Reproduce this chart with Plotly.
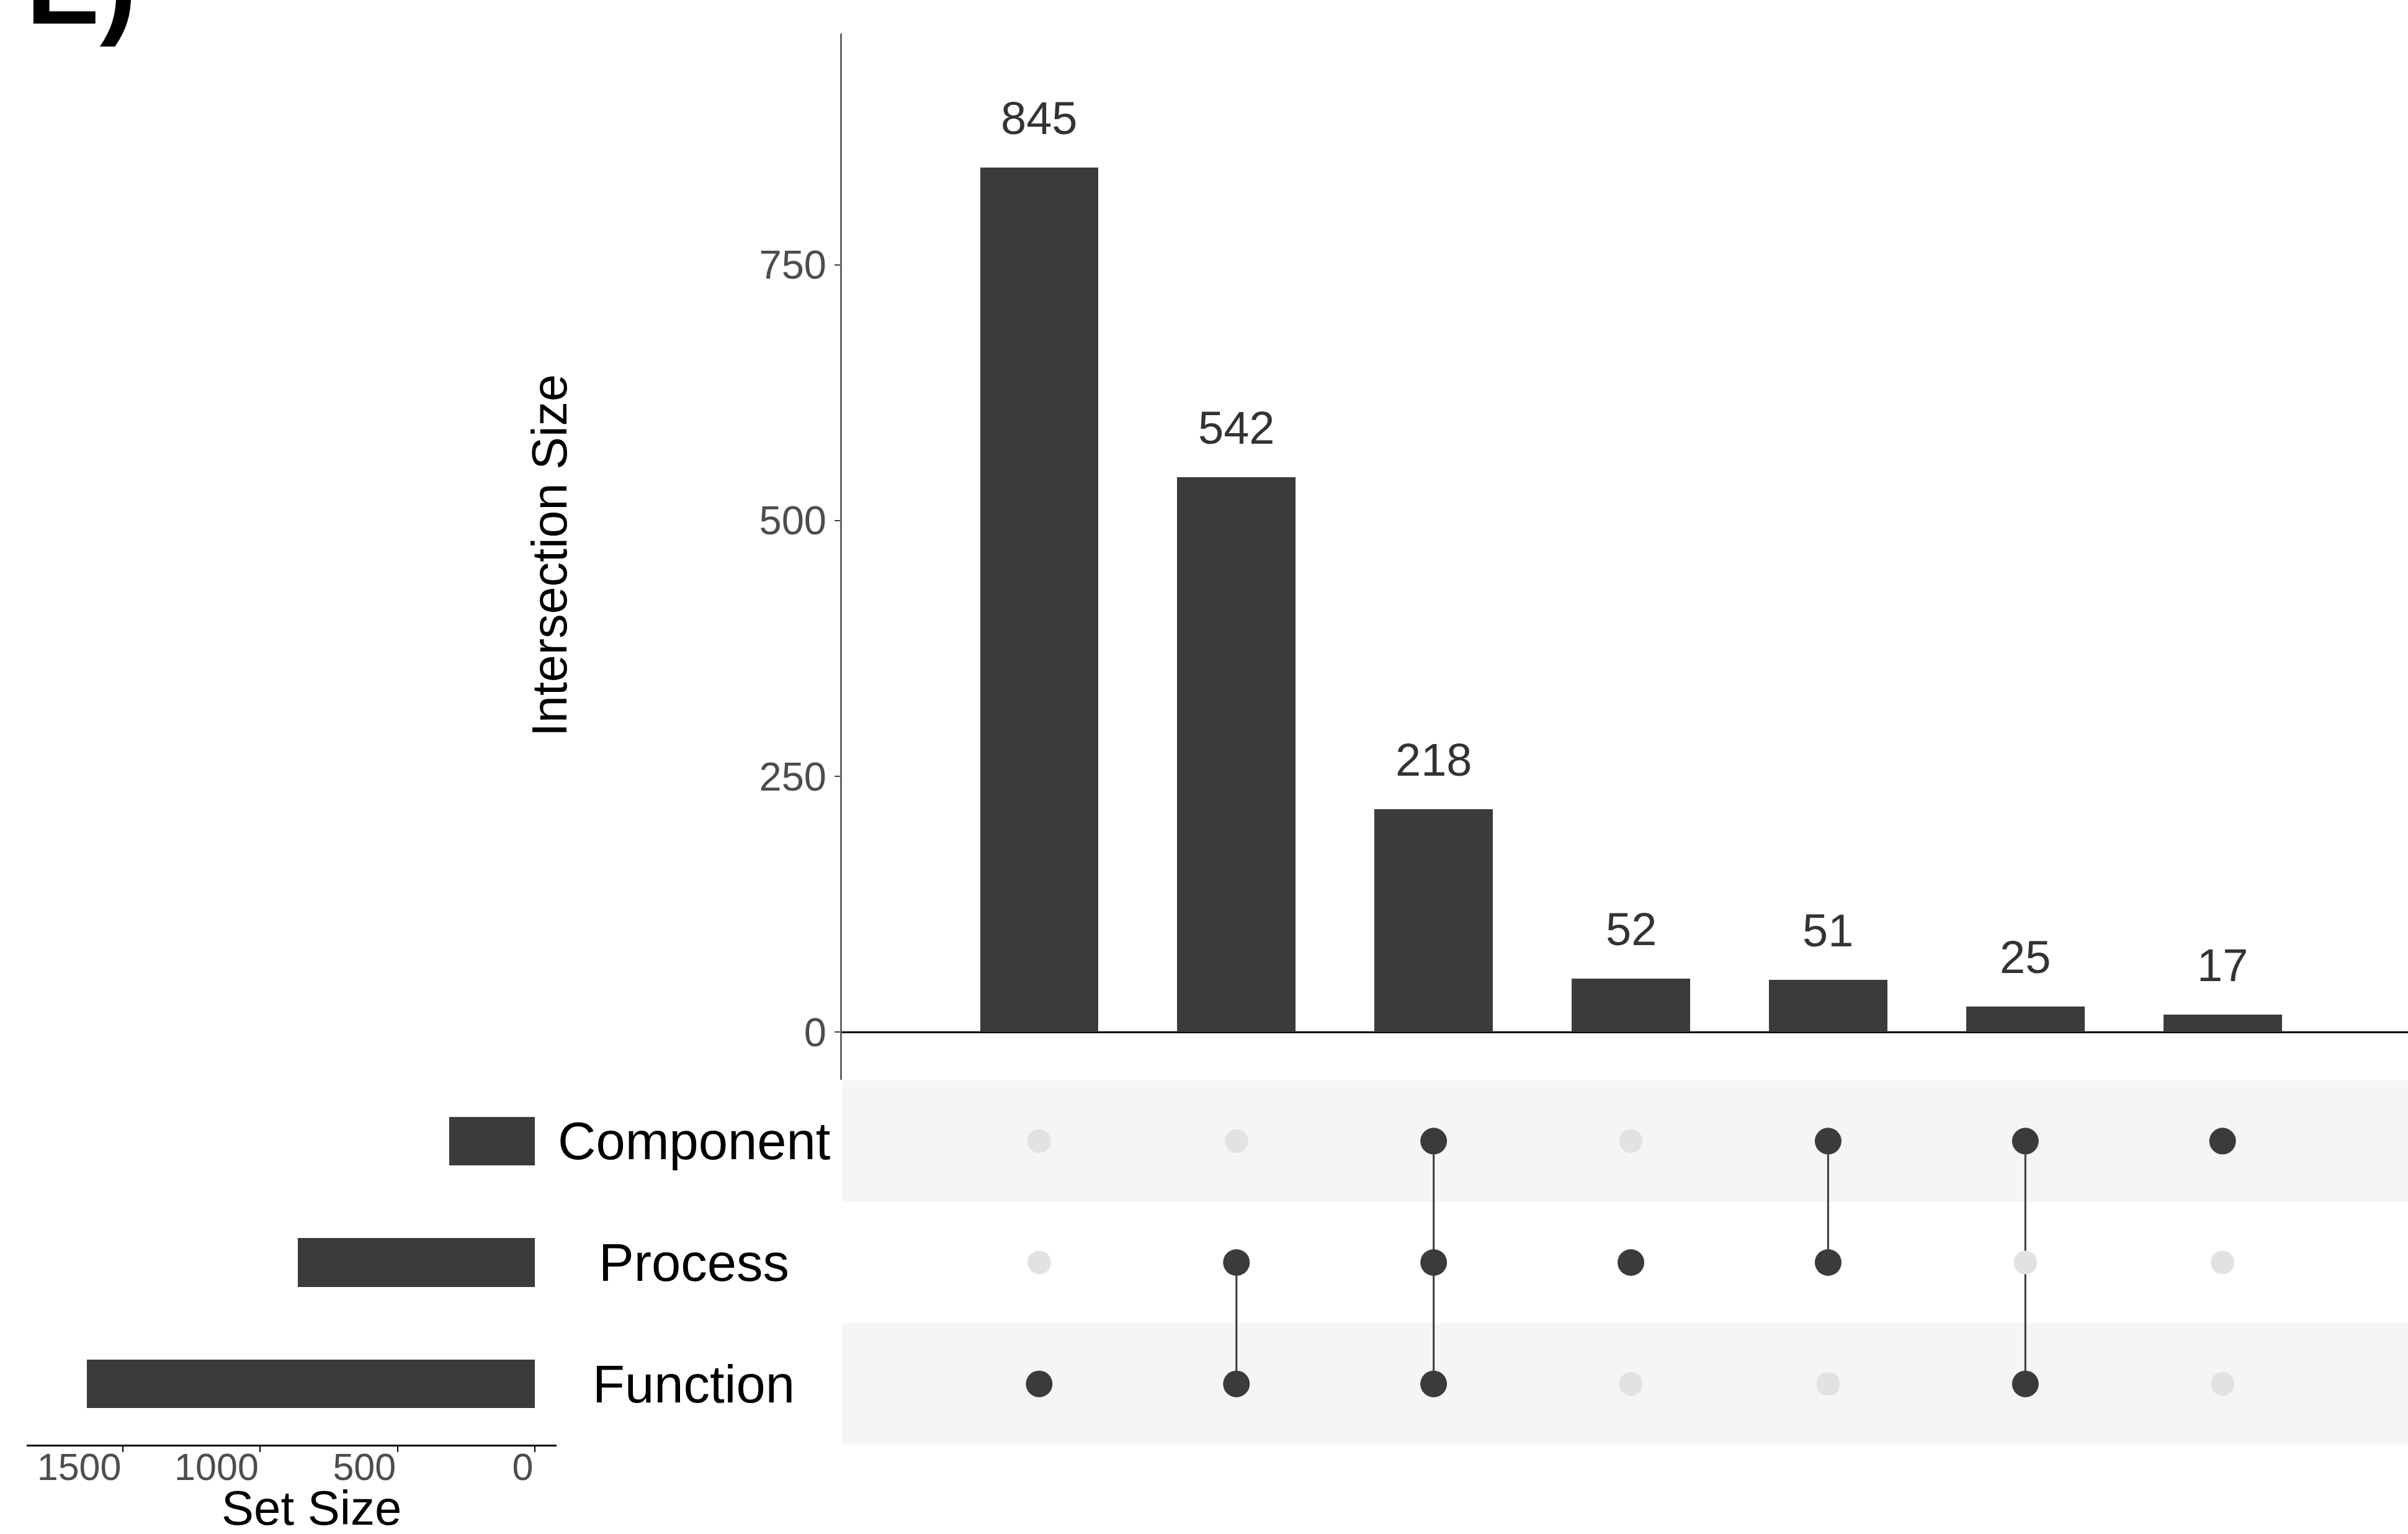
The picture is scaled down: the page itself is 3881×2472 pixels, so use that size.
import plotly.graph_objects as go

# Canvas size in pixels
W, H = 3881, 2472

# ---- data ----
set_names = ["Component", "Process", "Function"]          # matrix rows, top to bottom
set_rows = [2, 1, 0]                                      # y position of each set row
set_sizes = [311, 863, 1630]

intersection_sizes = [845, 542, 218, 52, 51, 25, 17]
intersection_members = [
    ["Function"],
    ["Process", "Function"],
    ["Component", "Process", "Function"],
    ["Process"],
    ["Component", "Process"],
    ["Component", "Function"],
    ["Component"],
]
size_ticks = [0, 250, 500, 750]
set_size_ticks = [0, 500, 1000, 1500]

# ---- styling ----
BAR = "#3b3b3b"
FONT = "Liberation Sans, Arial, Helvetica, sans-serif"
row_of = dict(zip(set_names, set_rows))
cols = list(range(1, len(intersection_sizes) + 1))


def px_x(p):
    return p / W


def px_y(p):
    return 1 - p / H


fig = go.Figure()

# intersection size bars
fig.add_trace(go.Bar(
    x=cols, y=intersection_sizes, width=0.6, marker=dict(color=BAR, line=dict(width=0)),
    xaxis="x", yaxis="y", showlegend=False, hoverinfo="x+y",
))

# set size bars (horizontal, growing to the left)
fig.add_trace(go.Bar(
    x=set_sizes, y=set_rows, orientation="h", width=0.4,
    marker=dict(color=BAR, line=dict(width=0)),
    xaxis="x2", yaxis="y2", showlegend=False,
))

# membership matrix: connecting lines
for c, members in zip(cols, intersection_members):
    rows = [row_of[m] for m in members]
    if len(rows) > 1:
        fig.add_trace(go.Scatter(
            x=[c, c], y=[min(rows), max(rows)], mode="lines",
            line=dict(color=BAR, width=3), xaxis="x3", yaxis="y3",
            showlegend=False, hoverinfo="skip",
        ))

# membership matrix: empty and filled dots
ex, ey, fx, fy = [], [], [], []
for c, members in zip(cols, intersection_members):
    for name, r in zip(set_names, set_rows):
        if name in members:
            fx.append(c); fy.append(r)
        else:
            ex.append(c); ey.append(r)

fig.add_trace(go.Scatter(
    x=ex, y=ey, mode="markers", marker=dict(color="#e2e2e2", size=38, line=dict(width=0)),
    xaxis="x3", yaxis="y3", showlegend=False, hoverinfo="skip",
))
fig.add_trace(go.Scatter(
    x=fx, y=fy, mode="markers", marker=dict(color=BAR, size=43, line=dict(width=0)),
    xaxis="x3", yaxis="y3", showlegend=False, hoverinfo="skip",
))

# ---- shading of alternate matrix rows ----
shapes = []
for r in (2, 0):
    shapes.append(dict(
        type="rect", xref="x3 domain", x0=0, x1=1, yref="y3", y0=r - 0.5, y1=r + 0.5,
        fillcolor="#f5f5f5", line=dict(width=0), layer="below",
    ))

# ---- annotations ----
annotations = []
for c, v in zip(cols, intersection_sizes):
    annotations.append(dict(
        x=c, y=v, xref="x", yref="y", text=str(v), showarrow=False,
        yanchor="bottom", yshift=36, font=dict(size=74, color="#333333", family=FONT),
    ))

for name, r in zip(set_names, set_rows):
    annotations.append(dict(
        x=px_x(1118), y=r, xref="paper", yref="y3", text=name, showarrow=False,
        xanchor="center", yanchor="middle", font=dict(size=85, color="black", family=FONT),
    ))

annotations.append(dict(
    x=px_x(886), y=px_y(895), xref="paper", yref="paper", text="Intersection Size",
    textangle=-90, showarrow=False, xanchor="center", yanchor="middle",
    font=dict(size=79, color="black", family=FONT),
))
annotations.append(dict(
    x=px_x(502), y=px_y(2430), xref="paper", yref="paper", text="Set Size",
    showarrow=False, xanchor="center", yanchor="middle",
    font=dict(size=78, color="black", family=FONT),
))
annotations.append(dict(
    x=px_x(40), y=px_y(78), xref="paper", yref="paper", text="<b>E)</b>",
    showarrow=False, xanchor="left", yanchor="bottom",
    font=dict(size=178, color="black", family=FONT),
))

top_dom = [px_y(1740), px_y(54)]
mat_dom = [px_y(2328), px_y(1741)]
x_dom = [px_x(1357), 1.0]
x_range = [0, 7.94]

fig.update_layout(
    width=W, height=H,
    margin=dict(l=0, r=0, t=0, b=0),
    paper_bgcolor="white", plot_bgcolor="rgba(0,0,0,0)",
    font=dict(family=FONT),
    showlegend=False,
    bargap=0,
    shapes=shapes,
    annotations=annotations,
    xaxis=dict(domain=x_dom, range=x_range, visible=False, anchor="y"),
    yaxis=dict(
        domain=top_dom, range=[-46.7, 976], anchor="x",
        tickvals=size_ticks, ticks="outside", ticklen=9, tickwidth=2, tickcolor="#444444",
        tickfont=dict(size=65, color="#4d4d4d", family=FONT),
        showline=True, linecolor="#666666", linewidth=3,
        zeroline=True, zerolinecolor="black", zerolinewidth=3,
        showgrid=False,
    ),
    xaxis2=dict(
        domain=[px_x(43), px_x(897)], range=[1850, -79], anchor="y2",
        tickvals=set_size_ticks, ticks="outside", ticklen=9, tickwidth=2, tickcolor="black",
        ticklabelposition="outside left", ticklabelstandoff=-19,
        tickfont=dict(size=61, color="#4d4d4d", family=FONT),
        showline=True, linecolor="black", linewidth=3,
        zeroline=False, showgrid=False,
    ),
    yaxis2=dict(domain=mat_dom, range=[-0.5, 2.5], visible=False, anchor="x2"),
    xaxis3=dict(domain=x_dom, range=x_range, visible=False, anchor="y3"),
    yaxis3=dict(domain=mat_dom, range=[-0.5, 2.5], visible=False, anchor="x3"),
)

fig.write_html("out.html")
